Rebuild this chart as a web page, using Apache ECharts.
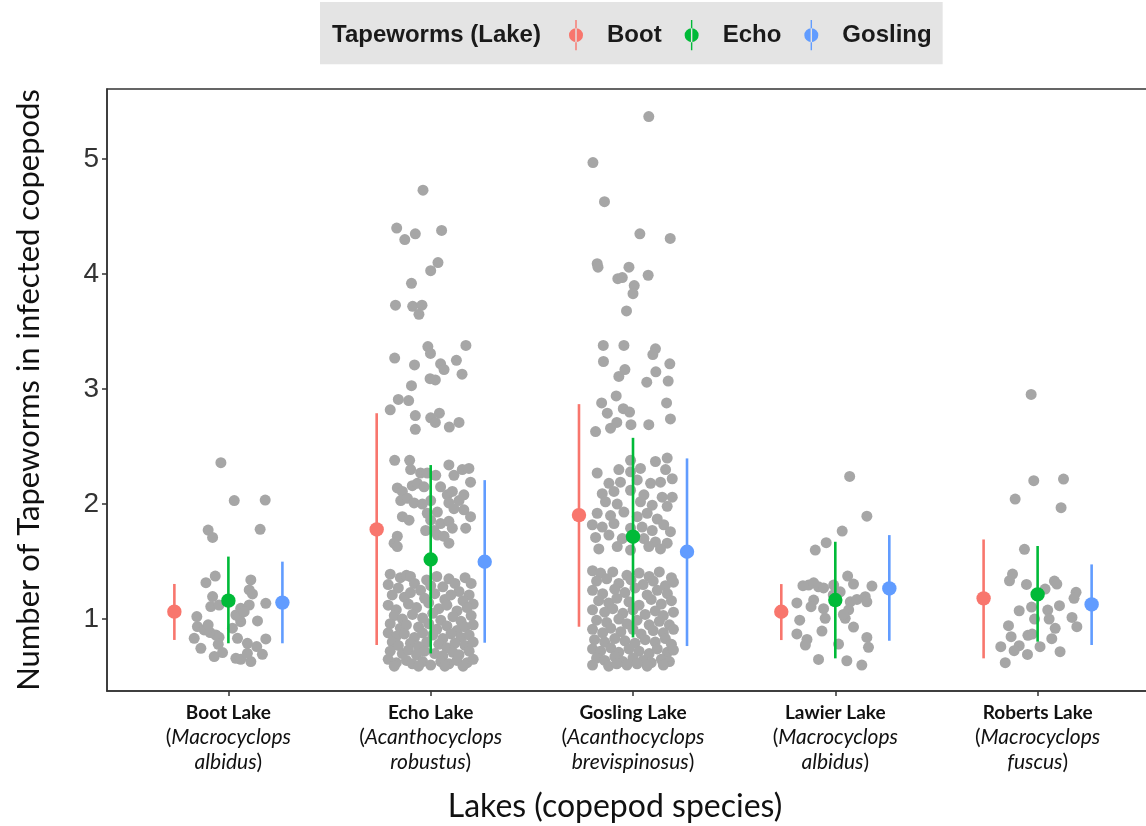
<!DOCTYPE html>
<html>
<head>
<meta charset="utf-8">
<script src="https://cdn.jsdelivr.net/npm/echarts@6/dist/echarts.min.js"></script>
<style>html,body{margin:0;padding:0;background:#fff}#chart{width:1146px;height:826px}</style>
</head>
<body>
<div id="chart"></div>
<script>
// ---------- data ----------
const lakes = ['Boot Lake', 'Echo Lake', 'Gosling Lake', 'Lawier Lake', 'Roberts Lake'];
const speciesA = ['Macrocyclops', 'Acanthocyclops', 'Acanthocyclops', 'Macrocyclops', 'Macrocyclops'];
const speciesB = ['albidus', 'robustus', 'brevispinosus', 'albidus', 'fuscus'];
const yTicks = [1, 2, 3, 4, 5];
const groups = ['Boot', 'Echo', 'Gosling'];

// point ranges per tapeworm source lake (mean, low, high), one value per copepod lake
const bootMean = [1.064, 1.779, 1.904, 1.063, 1.180];
const bootLow  = [0.818, 0.774, 0.933, 0.817, 0.658];
const bootHigh = [1.305, 2.790, 2.869, 1.304, 1.692];
const echoMean = [1.160, 1.518, 1.716, 1.165, 1.214];
const echoLow  = [0.789, 0.701, 0.840, 0.658, 0.803];
const echoHigh = [1.543, 2.339, 2.576, 1.672, 1.635];
const goslingMean = [1.143, 1.498, 1.585, 1.266, 1.127];
const goslingLow  = [0.789, 0.794, 0.765, 0.811, 0.774];
const goslingHigh = [1.499, 2.208, 2.397, 1.730, 1.475];

// jittered raw observations [x, y]
const bootPts = [[0.963,2.36],[1.029,2.03],[1.182,2.035],[0.900,1.774],[0.922,1.71],[1.157,1.78],[0.935,1.374],[0.889,1.316],[1.111,1.34],[1.103,1.253],[1.119,1.218],[0.922,1.195],[1.185,1.137],[0.913,1.108],[0.954,1.122],[1.061,1.093],[1.103,1.122],[1.037,1.035],[1.061,0.977],[0.844,1.021],[1.144,0.983],[0.847,0.934],[0.880,0.905],[0.910,0.882],[0.938,0.861],[0.954,0.841],[0.831,0.832],[0.864,0.745],[1.045,0.832],[1.094,0.789],[1.185,0.827],[0.930,0.673],[0.971,0.708],[1.037,0.658],[1.061,0.65],[1.111,0.63],[1.168,0.693],[1.094,0.702],[1.053,1.021],[1.078,1.064],[0.90,0.95],[1.02,0.92],[1.14,0.76],[0.95,0.78]];
const echoPts = [[1.962,4.73],[1.832,4.40],[1.872,4.30],[1.924,4.35],[2.054,4.38],[2.036,4.10],[2.00,4.03],[1.905,3.92],[1.826,3.73],[1.911,3.72],[1.957,3.73],[1.942,3.65],[1.986,3.37],[1.999,3.31],[2.174,3.38],[1.822,3.27],[1.92,3.21],[2.049,3.22],[2.066,3.17],[2.127,3.25],[2.155,3.13],[1.997,3.09],[2.023,3.08],[1.905,3.03],[1.84,2.91],[1.891,2.90],[1.80,2.82],[1.924,2.77],[2.00,2.75],[2.043,2.79],[2.023,2.71],[2.14,2.71],[2.092,2.67],[1.924,2.65],
[1.822,2.38],[1.896,2.38],[1.901,2.30],[1.950,2.27],[1.983,2.27],[2.025,2.25],[2.090,2.34],[2.115,2.25],[2.156,2.30],[2.189,2.31],[2.197,2.19],[1.835,2.14],[1.860,2.11],[1.909,2.16],[1.934,2.18],[1.967,2.15],[2.049,2.15],[2.082,2.08],[2.107,2.11],[2.140,2.03],[2.164,2.08],[1.852,2.03],[1.885,2.05],[1.918,2.01],[2.000,2.03],[2.090,2.01],[2.115,1.96],[2.164,1.95],[2.197,1.89],[1.860,1.89],[1.893,1.86],[1.983,1.92],[2.000,1.86],[2.049,1.83],[2.090,1.85],[2.107,1.79],[2.173,1.79],[1.975,1.77],[2.016,1.77],[2.033,1.73],[2.066,1.72],[2.090,1.66],[1.835,1.72],[1.819,1.66],[1.835,1.63],[1.959,2.00],[2.033,1.93],
[1.80,1.39],[1.85,1.36],[1.88,1.38],[1.90,1.37],[1.98,1.34],[2.03,1.37],[2.09,1.35],[2.17,1.36],[2.20,1.31],
[1.79,1.30],[1.84,1.27],[1.92,1.31],[1.95,1.25],[2.00,1.29],[2.06,1.28],[2.12,1.31],[2.14,1.24],[2.19,1.21],
[1.81,1.21],[1.87,1.19],[1.90,1.23],[1.97,1.18],[2.02,1.22],[2.07,1.17],[2.10,1.21],[2.16,1.16],[2.21,1.13],
[1.79,1.12],[1.83,1.08],[1.89,1.13],[1.93,1.10],[1.99,1.14],[2.04,1.09],[2.08,1.12],[2.13,1.07],[2.18,1.10],
[1.82,1.03],[1.86,1.00],[1.91,1.04],[1.96,1.01],[2.01,1.05],[2.05,0.99],[2.11,1.02],[2.15,0.98],[2.20,1.03],
[1.80,0.96],[1.85,0.92],[1.88,0.95],[1.94,0.93],[1.99,0.96],[2.03,0.91],[2.08,0.94],[2.13,0.90],[2.17,0.93],[2.21,0.95],
[1.79,0.88],[1.83,0.85],[1.87,0.87],[1.92,0.84],[1.96,0.88],[2.01,0.86],[2.06,0.83],[2.10,0.87],[2.15,0.84],[2.19,0.86],
[1.81,0.80],[1.84,0.77],[1.90,0.79],[1.94,0.76],[1.98,0.80],[2.04,0.78],[2.08,0.75],[2.12,0.79],[2.17,0.77],[2.21,0.80],
[1.80,0.72],[1.86,0.70],[1.89,0.73],[1.93,0.69],[1.97,0.72],[2.02,0.70],[2.06,0.68],[2.11,0.71],[2.14,0.69],[2.19,0.72],
[1.79,0.65],[1.83,0.62],[1.88,0.64],[1.91,0.61],[1.96,0.63],[2.00,0.60],[2.05,0.63],[2.09,0.61],[2.13,0.64],[2.18,0.62],[2.21,0.65],
[1.82,0.59],[1.94,0.59],[2.07,0.59],[2.16,0.59]];
const goslingPts = [[3.078,5.37],[2.802,4.97],[2.859,4.63],[3.034,4.35],[3.184,4.31],[2.823,4.09],[2.827,4.06],[2.980,4.06],[2.925,3.96],[2.947,3.97],[3.075,3.99],[3.006,3.90],[3.00,3.83],[2.968,3.68],[2.853,3.38],[2.955,3.38],[3.111,3.35],[3.098,3.30],[2.854,3.24],[3.182,3.22],[2.960,3.17],[2.930,3.11],[3.113,3.15],[3.068,3.06],[3.174,3.07],[2.917,2.94],[2.845,2.88],[2.873,2.79],[2.952,2.83],[2.983,2.80],[3.166,2.88],[3.185,2.74],[2.815,2.63],[2.889,2.66],[2.99,2.69],[3.078,2.69],[2.92,2.71],
[2.988,2.38],[3.111,2.37],[3.169,2.40],[2.823,2.27],[2.930,2.30],[2.988,2.28],[3.037,2.31],[3.161,2.30],[3.194,2.22],[2.881,2.18],[2.938,2.19],[3.021,2.21],[3.087,2.18],[3.136,2.19],[2.848,2.09],[2.906,2.11],[2.988,2.12],[3.054,2.08],[3.144,2.06],[3.194,2.06],[2.864,2.02],[2.922,2.00],[3.037,2.02],[3.095,1.99],[3.169,1.98],[2.823,1.92],[2.889,1.90],[2.955,1.93],[3.021,1.89],[3.070,1.92],[3.120,1.87],[2.799,1.82],[2.848,1.80],[2.906,1.83],[2.988,1.79],[3.045,1.80],[3.095,1.77],[3.152,1.82],[3.185,1.76],[2.815,1.71],[2.881,1.73],[2.947,1.70],[3.054,1.70],[3.111,1.67],[3.169,1.66],[2.831,1.61],[2.922,1.63],[2.988,1.60],[3.078,1.63],[3.136,1.61],
[2.80,1.42],[2.84,1.40],[2.90,1.41],[2.97,1.38],[3.03,1.40],[3.08,1.37],[3.13,1.41],[3.19,1.36],
[2.82,1.33],[2.87,1.35],[2.93,1.31],[2.99,1.34],[3.05,1.30],[3.10,1.33],[3.16,1.29],[3.20,1.32],
[2.80,1.25],[2.85,1.22],[2.91,1.26],[2.96,1.23],[3.01,1.27],[3.07,1.21],[3.12,1.25],[3.17,1.22],
[2.83,1.16],[2.88,1.14],[2.92,1.18],[2.98,1.15],[3.03,1.12],[3.09,1.17],[3.14,1.13],[3.19,1.16],
[2.80,1.08],[2.86,1.06],[2.90,1.09],[2.95,1.05],[3.00,1.08],[3.06,1.04],[3.11,1.07],[3.15,1.03],[3.20,1.06],
[2.82,0.99],[2.87,0.97],[2.93,1.00],[2.97,0.96],[3.02,0.99],[3.08,0.95],[3.13,0.98],[3.18,0.95],
[2.80,0.91],[2.85,0.88],[2.89,0.92],[2.94,0.89],[3.00,0.91],[3.04,0.87],[3.10,0.90],[3.15,0.88],[3.20,0.91],
[2.81,0.82],[2.86,0.80],[2.91,0.83],[2.96,0.81],[3.01,0.79],[3.06,0.82],[3.11,0.80],[3.16,0.83],[3.19,0.78],
[2.80,0.74],[2.84,0.72],[2.89,0.75],[2.93,0.71],[2.98,0.74],[3.03,0.72],[3.08,0.70],[3.12,0.74],[3.17,0.71],[3.20,0.73],
[2.82,0.66],[2.86,0.64],[2.91,0.67],[2.95,0.63],[3.00,0.66],[3.05,0.64],[3.09,0.62],[3.14,0.65],[3.18,0.63],
[2.80,0.60],[2.88,0.59],[2.97,0.60],[3.07,0.59],[3.15,0.60],[3.02,0.61],[2.92,0.61]];
const lawierPts = [[4.071,2.24],[4.156,1.895],[4.034,1.765],[3.955,1.664],[3.901,1.60],[4.061,1.374],[3.840,1.29],[3.868,1.295],[3.893,1.315],[3.917,1.28],[3.942,1.27],[3.992,1.295],[4.024,1.237],[4.090,1.304],[4.181,1.287],[3.810,1.14],[3.893,1.165],[3.880,1.107],[3.942,1.09],[4.074,1.15],[4.107,1.17],[4.148,1.194],[4.156,1.15],[4.066,1.08],[4.049,1.006],[3.950,1.006],[3.824,0.99],[4.090,0.93],[3.934,0.895],[3.810,0.87],[3.860,0.823],[3.852,0.774],[4.016,0.782],[4.156,0.84],[4.164,0.754],[3.917,0.649],[4.057,0.637],[4.131,0.60],[4.04,1.04],[3.99,1.21]];
const robertsPts = [[4.968,2.953],[4.981,2.203],[5.128,2.217],[4.889,2.043],[5.116,1.968],[4.935,1.606],[4.876,1.391],[4.861,1.333],[4.945,1.301],[5.037,1.261],[5.083,1.330],[5.095,1.304],[5.190,1.232],[5.180,1.18],[4.909,1.072],[4.970,1.104],[5.050,1.078],[5.057,1.00],[5.108,1.116],[4.985,1.00],[5.170,1.014],[4.856,0.942],[5.087,0.919],[5.194,0.933],[4.869,0.846],[4.952,0.858],[4.973,0.869],[5.070,0.829],[4.818,0.759],[4.909,0.768],[4.884,0.725],[5.012,0.759],[4.950,0.692],[5.111,0.716],[4.840,0.62]];

// ---------- chart ----------
const colors = ['#F8766D', '#00BA38', '#619CFF'];
const offsets = [-0.267, 0, 0.267];
const stats = [
  [bootMean, bootLow, bootHigh],
  [echoMean, echoLow, echoHigh],
  [goslingMean, goslingLow, goslingHigh]
];
const allPts = bootPts.concat(echoPts, goslingPts, lawierPts, robertsPts);

const legendIcon = 'path://M5.4,0 L6.6,0 L6.6,26 L5.4,26 Z M0,13 A6,6 0 1,0 12,13 A6,6 0 1,0 0,13 Z';

const rangeSeries = groups.map((g, gi) => ({
  name: g,
  type: 'custom',
  itemStyle: { color: colors[gi] },
  z: 5,
  encode: { x: 0, y: 1 },
  data: lakes.map((_, li) => [li + 1 + offsets[gi], stats[gi][0][li], stats[gi][1][li], stats[gi][2][li]]),
  renderItem: function (params, api) {
    const x = api.value(0);
    const p = api.coord([x, api.value(1)]);
    const lo = api.coord([x, api.value(2)]);
    const hi = api.coord([x, api.value(3)]);
    return {
      type: 'group',
      children: [
        { type: 'line', shape: { x1: p[0], y1: lo[1], x2: p[0], y2: hi[1] }, style: { stroke: colors[gi], lineWidth: 2.6 } },
        { type: 'circle', shape: { cx: p[0], cy: p[1], r: 7.2 }, style: { fill: colors[gi] } }
      ]
    };
  }
}));

const chart = echarts.init(document.getElementById('chart'), null, { renderer: 'canvas' });
chart.setOption({
  animation: false,
  backgroundColor: '#ffffff',
  title: {
    text: 'Tapeworms (Lake)',
    left: 332, top: 23,
    padding: 0,
    z: 20,
    textStyle: { fontFamily: 'Liberation Sans', fontWeight: 'bold', fontSize: 24, color: '#1a1a1a' }
  },
  legend: {
    data: groups,
    left: 320, top: 2,
    padding: [18, 11, 14, 249],
    backgroundColor: '#e4e4e4',
    itemWidth: 14, itemHeight: 34,
    itemGap: 23,
    icon: legendIcon,
    textStyle: { fontFamily: 'Liberation Sans', fontWeight: 'bold', fontSize: 24, color: '#1a1a1a', padding: [0, 0, 0, 19] }
  },
  grid: {
    left: 107, top: 89, width: 1052, height: 602,
    outerBoundsMode: 'none',
    containLabel: false,
    show: true, borderColor: '#333', borderWidth: 1.5, backgroundColor: 'transparent'
  },
  xAxis: {
    type: 'value', min: 0.4, max: 5.6,
    name: 'Lakes (copepod species)', nameLocation: 'middle', nameGap: 100,
    nameTextStyle: { fontFamily: 'Lato', fontSize: 32, color: '#111', padding: [0, 36, 0, 0] },
    axisLine: { show: true, lineStyle: { color: '#333', width: 1.5 } },
    splitLine: { show: false },
    axisTick: { show: true, customValues: [1, 2, 3, 4, 5], length: 5, lineStyle: { color: '#333', width: 1.5 } },
    axisLabel: {
      customValues: [1, 2, 3, 4, 5],
      margin: 9,
      formatter: function (v) {
        const i = Math.round(v) - 1;
        return '{b|' + lakes[i] + '}\n{p|(}{i|' + speciesA[i] + '}\n{i|' + speciesB[i] + '}{p|)}';
      },
      rich: {
        b: { fontFamily: 'Lato', fontWeight: 'bold', fontSize: 19, lineHeight: 25, color: '#111' },
        i: { fontFamily: 'Lato', fontStyle: 'italic', fontSize: 21, lineHeight: 25, color: '#111' },
        p: { fontFamily: 'Lato', fontSize: 21, lineHeight: 25, color: '#111' }
      }
    }
  },
  yAxis: {
    type: 'value', min: 0.374, max: 5.61,
    name: 'Number of Tapeworms in infected copepods', nameLocation: 'middle', nameGap: 63, nameRotate: 90,
    nameTextStyle: { fontFamily: 'Lato', fontSize: 31, color: '#111' },
    axisLine: { show: true, lineStyle: { color: '#333', width: 1.5 } },
    splitLine: { show: false },
    axisTick: { show: true, customValues: yTicks, length: 5, lineStyle: { color: '#333', width: 1.5 } },
    axisLabel: { customValues: yTicks, margin: 8, fontFamily: 'Liberation Sans', fontSize: 28, color: '#333' }
  },
  series: [{
    name: 'points',
    type: 'scatter',
    symbolSize: 11,
    itemStyle: { color: '#a6a6a6', opacity: 1 },
    z: 2,
    data: allPts
  }].concat(rangeSeries)
});
</script>
</body>
</html>
